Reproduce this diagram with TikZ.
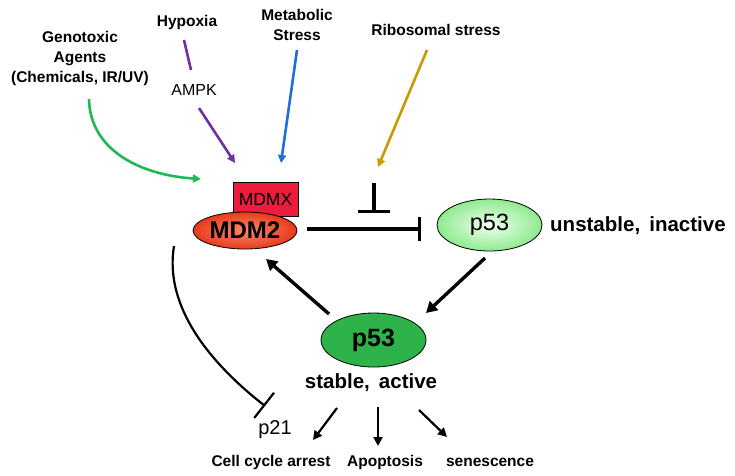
\documentclass[tikz,border=0pt]{standalone}
\usepackage{fontspec}
\setmainfont{Liberation Sans}
\usetikzlibrary{arrows.meta,shapes.geometric}
\definecolor{cgreen}{HTML}{1DB954}
\definecolor{cpurple}{HTML}{7030A0}
\definecolor{cblue}{HTML}{1F6FD8}
\definecolor{cgold}{HTML}{C89B00}
\definecolor{mdmx}{HTML}{EC1C3C}
\definecolor{mdmin}{HTML}{F88A6A}
\definecolor{mdmout}{HTML}{E83A1A}
\definecolor{pin}{HTML}{F0FFF0}
\definecolor{pout}{HTML}{8EEA8E}
\definecolor{pdark}{HTML}{2DB34A}
\begin{document}
\begin{tikzpicture}[x=1pt,y=-1pt,
  lab/.style={font=\fontsize{15.5}{20}\selectfont\bfseries, align=center, inner sep=0pt},
  big/.style={font=\fontsize{20.5}{24}\selectfont\bfseries, inner sep=0pt},
  thin/.style={font=\fontsize{16}{20}\selectfont, inner sep=0pt},
  carrow/.style={line width=2.6pt, -{Triangle[length=8pt,width=8pt]}},
  karrow/.style={line width=3.4pt, -{Triangle[length=11pt,width=12pt]}},
  sarrow/.style={line width=2.2pt, -{Triangle[length=9pt,width=9pt]}}
]
\useasboundingbox (0,0) rectangle (735,475);
% labels
\node[lab] (geno) at (80,58) {Genotoxic\\Agents\\(Chemicals, IR/UV)};
\node[lab] (hyp) at (187,22) {Hypoxia};
\node[thin] (ampk) at (194,90) {AMPK};
\node[lab] (meta) at (297,25) {Metabolic\\Stress};
\node[lab] (ribo) at (436,30) {Ribosomal stress};
% MDMX / MDM2
\node[draw=black, line width=0.8pt, fill=mdmx, minimum width=65pt, minimum height=34pt, inner sep=0pt,
  font=\fontsize{17.5}{20}\selectfont] (mdmx) at (265.5,199) {MDMX};
\node[draw=black, line width=0.8pt, ellipse, minimum width=104pt, minimum height=37pt, inner sep=0pt,
  inner color=mdmin, outer color=mdmout, font=\fontsize{24}{28}\selectfont\bfseries] (mdm2) at (245,230.5) {MDM2};
% p53 unstable
\node[draw=black, line width=0.8pt, ellipse, minimum width=105pt, minimum height=52pt, inner sep=0pt,
  inner color=pin, outer color=pout, font=\fontsize{23.5}{28}\selectfont] (p53u) at (489.5,225) {p53};
\node[big, anchor=west] (unst) at (550,226) {unstable,\, inactive};
% p53 stable
\node[draw=black, line width=0.8pt, ellipse, minimum width=105pt, minimum height=54pt, inner sep=0pt,
  fill=pdark, font=\fontsize{25}{28}\selectfont\bfseries] (p53s) at (373.5,340) {p53};
\node[big] (stab) at (371,383) {stable,\, active};
\node[font=\fontsize{20}{24}\selectfont, inner sep=0pt] (p21) at (275,430) {p21};
\node[lab] (cca) at (271,462) {Cell cycle arrest};
\node[lab] (apo) at (385,462) {Apoptosis};
\node[lab] (sen) at (490,462) {senescence};
% coordinates
\coordinate (h1) at (184,40); \coordinate (h2) at (191,70);
\coordinate (a1) at (199,108); \coordinate (a2) at (235,163);
\coordinate (m1) at (297,50); \coordinate (m2) at (281,163);
\coordinate (g1) at (89,99); \coordinate (g2) at (201,179);
\coordinate (r1) at (427,50); \coordinate (r2) at (378,167);
\coordinate (t1) at (374,183); \coordinate (t2) at (374,213);
\coordinate (i1) at (307,229); \coordinate (i2) at (421,229);
\coordinate (c1) at (174,246); \coordinate (c2) at (265,406);
% colored arrows
\draw[cpurple, line width=2.6pt] (h1) -- (h2);
\draw[cpurple, carrow] (a1) -- (a2);
\draw[cblue, carrow] (m1) -- (m2);
\draw[cgreen, carrow] (g1) .. controls (90,150) and (140,175) .. (g2);
\draw[cgold, carrow] (r1) -- (r2);
% inhibitions
\draw[line width=3.4pt, -{Bar[width=32pt]}] (t1) -- (t2);
\draw[line width=3.4pt, -{Bar[width=24pt]}] (i1) -- (i2);
\draw[line width=2.2pt, -{Bar[width=32pt,line width=2.2pt]}] (c1) .. controls (165,300) and (200,355) .. (c2);
% black arrows
\draw[karrow] (485,258) -- (426,313);
\draw[karrow] (329,314) -- (266,259);
\draw[sarrow] (337,408) -- (313,440);
\draw[sarrow] (378,407) -- (378,446);
\draw[sarrow] (419,410) -- (447,437);
\end{tikzpicture}
\end{document}
